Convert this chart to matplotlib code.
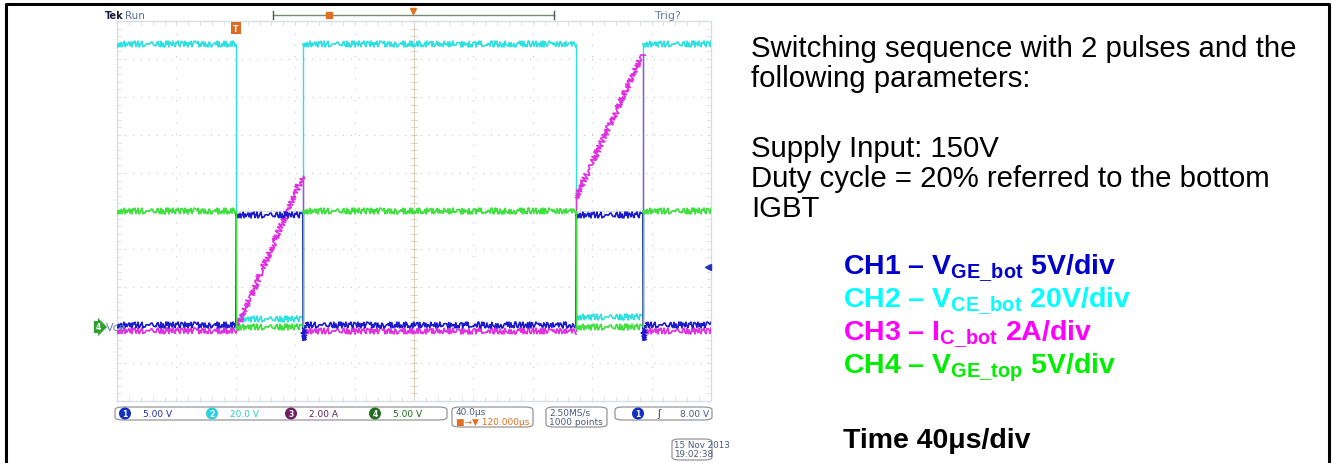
import numpy as np
import matplotlib.pyplot as plt
from matplotlib.patches import FancyBboxPatch
from matplotlib.lines import Line2D

W, H = 1332, 464

# scope traces: time in us (screen 0..400, 40us/div), level in divisions (-5..5)
t_ch1 = [0, 80, 80.3, 125, 125.3, 126.5, 309, 309.3, 354, 354.3, 355.5, 400]
v_ch1 = [-3.0, -3.0, -0.1, -0.1, -3.4, -3.0, -3.0, -0.1, -0.1, -3.4, -3.0, -3.0]

t_ch2 = [0, 80, 80, 125, 125, 309, 309, 354, 354, 400]
v_ch2 = [4.4, 4.4, -2.85, -2.85, 4.4, 4.4, -2.8, -2.8, 4.4, 4.4]

t_ch3 = [0, 80, 125, 125, 309, 309, 354, 354, 400]
v_ch3 = [-3.15, -3.15, 0.92, -3.15, -3.15, 0.35, 4.13, -3.15, -3.15]

t_ch4 = [0, 80, 80, 125.5, 125.5, 309, 309, 354.5, 354.5, 400]
v_ch4 = [0, 0, -3.05, -3.05, 0, 0, -3.05, -3.05, 0, 0]

trace_colors = ['#1a1acc', '#2ee0e0', '#e030e0', '#3ee03e']

ch_labels = ['5.00 V', '20.0 V', '2.00 A', '5.00 V']
ch_badge = ['#1530c0', '#30d0e0', '#702060', '#207020']
ch_text = ['#2030a0', '#30c8d8', '#602050', '#1a6a1a']

info_lines = ['Switching sequence with 2 pulses and the', 'following parameters:',
              'Supply Input: 150V', 'Duty cycle = 20% referred to the bottom', 'IGBT']
info_y = [57, 87, 157, 187, 217]

legend_lines = [r'CH1 – V$_{\mathrm{GE\_bot}}$ 5V/div', r'CH2 – V$_{\mathrm{CE\_bot}}$ 20V/div',
                r'CH3 – I$_{\mathrm{C\_bot}}$ 2A/div', r'CH4 – V$_{\mathrm{GE\_top}}$ 5V/div']
legend_colors = ['#0000cc', '#00ffff', '#ff00ff', '#00ee00']
legend_y = [275, 308, 341, 374]

plt.rcParams['mathtext.fontset'] = 'custom'
plt.rcParams['mathtext.rm'] = 'Liberation Sans:bold'
plt.rcParams['mathtext.bf'] = 'Liberation Sans:bold'
plt.rcParams['mathtext.it'] = 'Liberation Sans:bold:italic'


def fx(x):
    return x / W


def fy(y):
    return 1 - y / H


fig = plt.figure(figsize=(W / 100, H / 100), dpi=100)
fig.patch.set_facecolor('white')

# outer black frame (top, left, right)
fig.add_artist(Line2D([fx(6), fx(6), fx(1329), fx(1329)], [0, fy(5), fy(5), 0],
                      color='black', lw=2.2))

ax = fig.add_axes([fx(117), fy(402), fx(711) - fx(117), fy(22) - fy(402)])
ax.set_xlim(0, 400)
ax.set_ylim(-5, 5)
ax.axis('off')

# graticule
grid_c = '#c0c8d4'
for x in range(40, 400, 40):
    if x != 200:
        ax.axvline(x, color=grid_c, lw=0.8, ls=(0, (1, 9)), zorder=1)
for y in range(-4, 5):
    if y != 0:
        ax.axhline(y, color=grid_c, lw=0.8, ls=(0, (1, 6)), zorder=1)
ax.axvline(200, color='#ddd2c0', lw=0.8, zorder=1)
ax.axhline(0, color='#d8dce4', lw=0.8, zorder=1)
ax.plot([0, 400, 400, 0, 0], [-5, -5, 5, 5, -5], color='#d8dee6', lw=1, zorder=1, clip_on=False)
for yy in np.arange(-5, 5.01, 0.2):
    ax.plot([198, 202], [yy, yy], color='#d8ccb8', lw=0.6, zorder=1)
    ax.plot([0, 2.7], [yy, yy], color='#d8dee6', lw=0.6, zorder=1)
    ax.plot([397.3, 400], [yy, yy], color='#d8dee6', lw=0.6, zorder=1)
for xx in np.arange(0, 400.1, 8):
    ax.plot([xx, xx], [-0.08, 0.08], color='#d8dce4', lw=0.6, zorder=1)
    ax.plot([xx, xx], [4.9, 5], color='#d8dee6', lw=0.6, zorder=1)
    ax.plot([xx, xx], [-5, -4.9], color='#d8dee6', lw=0.6, zorder=1)


def draw_trace(t, v, color, z):
    t = np.asarray(t, float)
    v = np.asarray(v, float)
    cuts = np.where(np.diff(t) < 0.6)[0]
    start = 0
    for i in list(cuts) + [len(t) - 1]:
        if i > start:
            ln, = ax.plot(t[start:i + 1], v[start:i + 1], color=color, lw=1.2, zorder=z)
            ln.set_sketch_params(3.0, 2.0, 2.0)
        if i < len(t) - 1:
            ax.plot(t[i:i + 2], v[i:i + 2], color=color, lw=1.0, zorder=z)
        start = i + 1


draw_trace(t_ch2, v_ch2, trace_colors[1], 3)
draw_trace(t_ch1, v_ch1, trace_colors[0], 4)
draw_trace(t_ch3, v_ch3, trace_colors[2], 3.5)
draw_trace(t_ch4, v_ch4, trace_colors[3], 5)

# trigger level arrow
ax.plot([398], [-1.47], marker='<', color='#2030c0', ms=4, zorder=6, clip_on=False)

# top bar
mono = 'DejaVu Sans'
fig.text(fx(105), fy(16), 'Tek', fontsize=7, fontweight='bold', color='#1a1a3a',
         va='center', family=mono)
fig.text(fx(125), fy(16), 'Run', fontsize=7.5, color='#5a6ea0', va='center', family=mono)
fig.text(fx(655), fy(16), 'Trig?', fontsize=8, color='#6a7ab0', va='center', family=mono)
fig.add_artist(Line2D([fx(273), fx(554)], [fy(16), fy(16)], color='#7a8a70', lw=1))
for xb in (273, 554):
    fig.add_artist(Line2D([fx(xb), fx(xb)], [fy(12), fy(20)], color='#555555', lw=1))
fig.add_artist(Line2D([fx(329)], [fy(16)], marker='s', color='#e07020', ms=4))
fig.add_artist(Line2D([fx(413)], [fy(12)], marker='v', color='#e07020', ms=4))
fig.text(fx(236), fy(29), 'T', fontsize=5.5, fontweight='bold', color='white', ha='center',
         va='center', family=mono, bbox=dict(boxstyle='square,pad=0.25', fc='#e06a20', ec='none'))

# left reference marker
fig.text(fx(98), fy(328), '4', fontsize=5.5, fontweight='bold', color='white', ha='center',
         va='center', family=mono, bbox=dict(boxstyle='rarrow,pad=0.2', fc='#30a030', ec='none'))
fig.text(fx(106), fy(328), 'Vce', fontsize=8, color='#6a80b0', va='center', family=mono)


# bottom status boxes
def status_box(x0, x1, y0, y1):
    fig.add_artist(FancyBboxPatch((fx(x0), fy(y1)), fx(x1) - fx(x0), fy(y0) - fy(y1),
                                  boxstyle='round,pad=0,rounding_size=0.006',
                                  fc='white', ec='#8a8a8a', lw=0.8, transform=fig.transFigure))


status_box(115, 447, 408, 421)
badge_x = [125, 212, 291, 375]
for i in range(4):
    fig.text(fx(badge_x[i]), fy(414.5), str(i + 1), fontsize=5.5, fontweight='bold',
             color='white', ha='center', va='center', family=mono,
             bbox=dict(boxstyle='circle,pad=0.2', fc=ch_badge[i], ec='none'))
    fig.text(fx(badge_x[i] + 18), fy(414.5), ch_labels[i], fontsize=6.5, color=ch_text[i],
             va='center', family=mono)

status_box(452, 533, 408, 428)
fig.text(fx(456), fy(413), '40.0µs', fontsize=6.5, color='#4a5a80', va='center', family=mono)
fig.text(fx(456), fy(423), '■→▼ 120.000µs', fontsize=6.5, color='#e07020', va='center', family=mono)

status_box(546, 607, 408, 428)
fig.text(fx(549), fy(413), '2.50MS/s', fontsize=6.5, color='#4a5a80', va='center', family=mono)
fig.text(fx(549), fy(423), '1000 points', fontsize=6.5, color='#4a5a80', va='center', family=mono)

status_box(615, 712, 408, 421)
fig.text(fx(638), fy(414.5), '1', fontsize=5.5, fontweight='bold', color='white', ha='center',
         va='center', family=mono, bbox=dict(boxstyle='circle,pad=0.2', fc=ch_badge[0], ec='none'))
fig.text(fx(657), fy(414.5), 'ʃ', fontsize=7, color='#303060', va='center', family=mono)
fig.text(fx(680), fy(414.5), '8.00 V', fontsize=6.5, color='#4a5a80', va='center', family=mono)

status_box(672, 712, 440, 461)
fig.text(fx(674), fy(445.5), '15 Nov 2013', fontsize=6.3, color='#4a5a80', va='center', family=mono)
fig.text(fx(674), fy(455), '19:02:38', fontsize=6.3, color='#4a5a80', va='center', family=mono)

# description text on the right
for txt, yb in zip(info_lines, info_y):
    fig.text(fx(751), fy(yb), txt, fontsize=21.2, family='Liberation Sans', color='black',
             va='baseline')
for txt, col, yb in zip(legend_lines, legend_colors, legend_y):
    fig.text(fx(843), fy(yb), txt, fontsize=20.5, family='Liberation Sans', fontweight='bold',
             color=col, va='baseline')
fig.text(fx(843), fy(448), 'Time 40μs/div', fontsize=20.5, family='Liberation Sans',
         fontweight='bold', color='black', va='baseline')

fig.savefig('out.png', dpi=100)
